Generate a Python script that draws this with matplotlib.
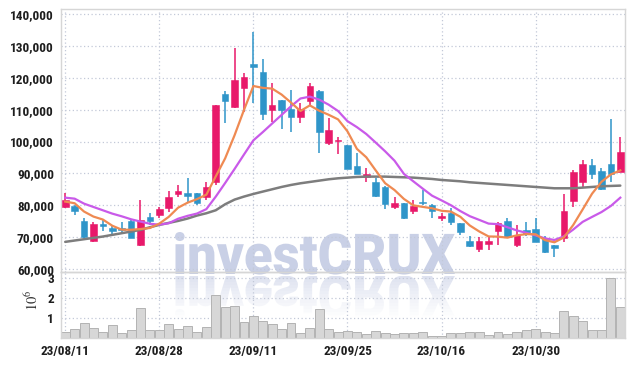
import matplotlib
matplotlib.use("Agg")
import matplotlib.pyplot as plt
import numpy as np
import matplotlib.transforms as mtransforms
from matplotlib.textpath import TextPath
from matplotlib.patches import PathPatch, Rectangle
from matplotlib.font_manager import FontProperties

# ---------------- data ----------------
opens = [79500, 79700, 75000, 68800, 74200, 72700, 72900, 75000, 67300, 76200,
         76900, 79000, 83500, 83700, 83700, 82400, 87400, 115100, 110900, 116900,
         124400, 121900, 109900, 113000, 110200, 107800, 112700, 115900, 99600, 100100,
         98900, 92300, 88800, 87400, 85700, 79500, 80600, 78000, 81100, 80000,
         76100, 77400, 74300, 68800, 66100, 67900, 71700, 75000, 67300, 72100,
         72500, 69600, 67300, 69600, 81400, 87400, 92600, 90800, 92900, 90500]
highs = [83900, 79900, 75900, 74800, 75600, 73800, 74600, 75300, 81600, 77400,
         79500, 84300, 86300, 88400, 83900, 87400, 111600, 115900, 129300, 121400,
         134400, 126100, 118300, 113200, 116200, 112000, 118300, 116200, 107300, 101500,
         99000, 96300, 91600, 88600, 85900, 82700, 80700, 81600, 84800, 80300,
         77400, 79000, 74400, 70400, 70000, 70000, 74800, 75900, 73800, 74600,
         75900, 70400, 67500, 83400, 91100, 94200, 94500, 91800, 107000, 101300]
lows = [79000, 76900, 69800, 68300, 71700, 70800, 70800, 69800, 67200, 73600,
        76100, 77800, 82400, 81100, 80100, 81600, 86300, 105700, 110400, 109400,
        112000, 106800, 106000, 103900, 103100, 105700, 111500, 96300, 98900, 96000,
        91200, 89800, 87400, 82400, 78800, 78800, 75600, 77100, 80100, 76000,
        75000, 73800, 70600, 66700, 65400, 65900, 67500, 69600, 66700, 70400,
        68300, 64900, 63800, 68500, 79500, 85500, 88100, 84800, 87400, 90400]
closes = [81600, 78300, 70000, 74000, 73400, 71900, 72100, 69800, 75200, 75000,
          78800, 82700, 84300, 83000, 80600, 85800, 111500, 112700, 119300, 120400,
          123400, 108600, 111500, 109900, 107800, 110200, 117400, 103100, 103600, 100500,
          91400, 89900, 89800, 83000, 80400, 80600, 75900, 79700, 80600, 78200,
          76700, 74600, 71500, 67000, 68800, 68800, 74300, 69900, 70600, 70800,
          68500, 65100, 66500, 78200, 90500, 92900, 89900, 85100, 89900, 96800]
volumes = [320000, 430000, 730000, 480000, 320000, 630000, 270000, 400000, 1480000, 400000,
           400000, 700000, 450000, 600000, 320000, 530000, 2150000, 1530000, 1600000, 800000,
           1100000, 850000, 700000, 450000, 750000, 250000, 480000, 1430000, 450000, 300000,
           350000, 300000, 200000, 350000, 250000, 200000, 250000, 250000, 280000, 120000,
           100000, 230000, 230000, 280000, 280000, 130000, 280000, 200000, 280000, 380000,
           430000, 280000, 250000, 1330000, 1080000, 830000, 380000, 380000, 2980000, 1530000]
ma5 = [81110, 80580, 77970, 76390, 75460, 73520, 72280, 72240, 72480, 72800,
       74180, 76300, 79200, 80760, 81880, 83280, 89040, 94720, 101980, 109940,
       117460, 116880, 116640, 114760, 112240, 109600, 111360, 109680, 108420, 106960,
       103200, 97700, 95040, 90920, 86900, 84740, 81940, 79920, 79440, 79000,
       78220, 77960, 76320, 73600, 71720, 70140, 70080, 69760, 70480, 70880,
       70820, 68980, 68300, 69820, 73760, 78640, 83600, 87320, 89660, 90920]
ma10 = [82340, 82030, 80460, 79410, 78370, 77320, 76480, 75540, 74820, 74130,
        73850, 74290, 75720, 76620, 77340, 78730, 82670, 86960, 91370, 95910,
        100370, 102960, 105680, 108370, 111090, 113530, 114120, 113160, 111590, 109600,
        106400, 104530, 102360, 99670, 96930, 93970, 89820, 87480, 85180, 82950,
        81480, 79950, 78120, 76520, 75360, 74180, 74020, 73040, 72040, 71300,
        70480, 69530, 69030, 70150, 72320, 74730, 76290, 77810, 79740, 82340]
ma_long = [68440, 68860, 69270, 69690, 70110, 70640, 71160, 71680, 72210, 73040,
           73780, 74400, 75030, 75770, 76710, 77440, 78380, 80270, 81730, 82680,
           83510, 84250, 84980, 85710, 86340, 86860, 87280, 87700, 88120, 88430,
           88640, 88850, 88960, 88960, 88960, 88850, 88750, 88640, 88430, 88220,
           87910, 87700, 87490, 87180, 86970, 86760, 86550, 86340, 86130, 85920,
           85710, 85500, 85290, 85290, 85290, 85500, 85710, 85920, 86030, 86130]
tick_pos = [0, 10, 20, 30, 40, 50]
tick_labels = ["23/08/11", "23/08/28", "23/09/11", "23/09/25", "23/10/16", "23/10/30"]
price_ticks = [60000, 70000, 80000, 90000, 100000, 110000, 120000, 130000, 140000]
vol_ticks = [1000000, 2000000, 3000000]

# ---------------- style ----------------
RED = "#e8196a"
BLUE = "#2f95c9"
ORANGE = "#ef8a52"
PURPLE = "#c95ae9"
GRAY = "#7d7d7d"
GRID = "#c3c9d8"
SPINE = "#d6d6d6"
TXT = "#1e1e1e"
W, H = 634, 366

plt.rcParams["mathtext.fontset"] = "stix"
tick_font = ["Roboto Condensed", "Open Sans Condensed", "Roboto", "DejaVu Sans"]

fig = plt.figure(figsize=(W / 100, H / 100), dpi=100)
fig.patch.set_facecolor("white")
ax = fig.add_axes([61 / W, 1 - 272 / H, (625 - 61) / W, (272 - 9) / H])
axv = fig.add_axes([61 / W, 1 - 338 / H, (625 - 61) / W, (338 - 272) / H], sharex=ax)

o = np.array(opens); c = np.array(closes); h = np.array(highs); l = np.array(lows)
x = np.arange(len(c))
cols = np.where(c >= o, RED, BLUE)

ax.vlines(x, l, h, colors=cols, lw=1.1, zorder=2)
bottom = np.minimum(o, c)
height = np.maximum(np.abs(c - o), 300)
ax.bar(x, height, bottom=bottom, width=0.7, color=cols, edgecolor=cols, lw=0.4, zorder=3)

ax.plot(x, ma_long, color=GRAY, lw=1.8, zorder=4, solid_capstyle="round")
ax.plot(x, ma10, color=PURPLE, lw=1.6, zorder=4)
ax.plot(x, ma5, color=ORANGE, lw=1.6, zorder=5)

axv.bar(x, volumes, width=0.95, color="#d7d7d7", edgecolor="#b3b3b3", lw=0.7, zorder=2)

for a in (ax, axv):
    a.set_facecolor("none")
    a.grid(True, color=GRID, linestyle=(0, (1, 2)), lw=0.9)
    a.set_axisbelow(True)
    for s in a.spines.values():
        s.set_color(SPINE)
        s.set_linewidth(1.0)
    a.tick_params(length=0, colors=TXT)

ax.set_xlim(-0.45, 59.5)
ax.set_ylim(58960, 141680)
ax.set_yticks(price_ticks)
ax.set_yticklabels([f"{v:,}" for v in price_ticks])
ax.tick_params(axis="x", labelbottom=False)
ax.tick_params(axis="y", pad=5)
ax.spines["bottom"].set_color("#c8c8c8")

axv.set_ylim(0, 3.3e6)
axv.set_yticks(vol_ticks)
axv.set_yticklabels([str(int(v / 1e6)) for v in vol_ticks])
axv.set_xticks(tick_pos)
axv.set_xticklabels(tick_labels)
axv.tick_params(axis="y", pad=5)
axv.tick_params(axis="x", pad=5)

for a in (ax, axv):
    for lab in a.get_xticklabels() + a.get_yticklabels():
        lab.set_family(tick_font)
        lab.set_fontsize(9.5)
        lab.set_fontweight("bold")
        lab.set_color(TXT)

fig.text(32 / W, 1 - 300 / H, r"$10^6$", rotation=90, ha="center", va="center",
         fontsize=10.5, color="#333333")

# ---------------- watermark ----------------
fp = FontProperties(family=["Roboto", "DejaVu Sans"], weight="black")
tp = TextPath((0, 0), "investCRUX", size=1, prop=fp)
ext = tp.get_extents()
x_left, x_right, base_y, top_y = 175, 455, 274, 232
sx = (x_right - x_left) / ext.width
sy = (base_y - top_y) / ext.y1
tr = (mtransforms.Affine2D().translate(-ext.x0, 0).scale(sx / W, sy / H)
      .translate(x_left / W, (H - base_y) / H) + fig.transFigure)
wm = PathPatch(tp, transform=tr, facecolor="#c9d0e6", edgecolor="none", zorder=-1)
fig.add_artist(wm)

gap = 2
tr_r = (mtransforms.Affine2D().translate(-ext.x0, 0).scale(sx / W, -sy / H)
        .translate(x_left / W, (H - base_y - gap) / H) + fig.transFigure)
nb = 14
band = (base_y - top_y) / nb
for k in range(nb):
    a_k = 0.6 * (1 - k / nb) ** 1.2
    rp = PathPatch(tp, transform=tr_r, facecolor="#c9d0e6", edgecolor="none",
                   alpha=a_k, zorder=-1)
    y_top = H - base_y - gap - k * band
    rect = Rectangle((0, (y_top - band) / H), 1, band / H, transform=fig.transFigure)
    rp.set_clip_path(rect)
    fig.add_artist(rp)

fig.savefig("out.png", dpi=100, facecolor="white")
